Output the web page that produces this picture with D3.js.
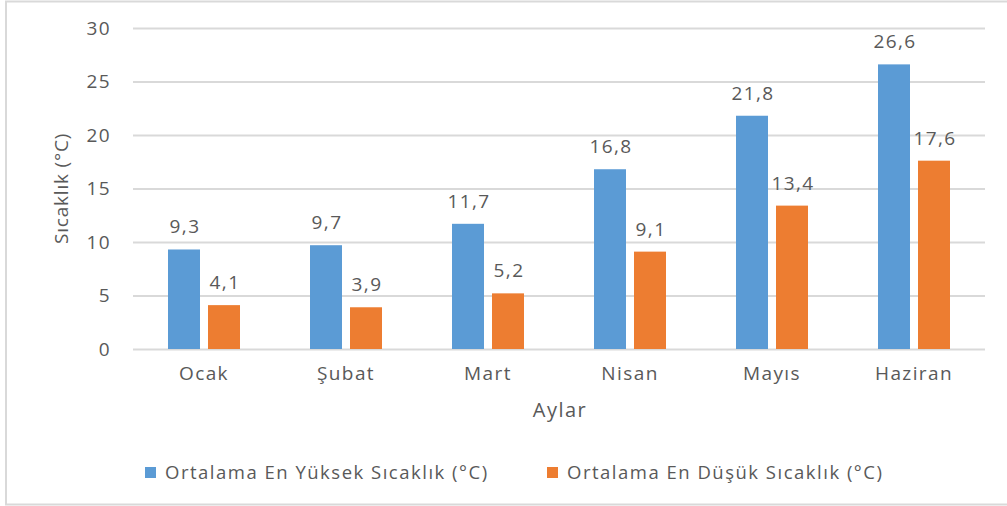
<!DOCTYPE html>
<html>
<head>
<meta charset="utf-8">
<script src="https://cdn.jsdelivr.net/npm/d3@7"></script>
<style>
  html, body { margin: 0; padding: 0; background: #fff; }
  svg { display: block; font-family: "Open Sans", "Noto Sans", sans-serif; }
</style>
</head>
<body>
<svg id="chart" width="1007" height="506"></svg>
<script>
// Monthly average temperatures
const months = ["Ocak", "Şubat", "Mart", "Nisan", "Mayıs", "Haziran"];
const highTemps = [9.3, 9.7, 11.7, 16.8, 21.8, 26.6];
const lowTemps = [4.1, 3.9, 5.2, 9.1, 13.4, 17.6];
const seriesNames = ["Ortalama En Yüksek Sıcaklık (°C)", "Ortalama En Düşük Sıcaklık (°C)"];
const yTicks = [0, 5, 10, 15, 20, 25, 30];

const colors = ["#5B9BD5", "#ED7D31"];
const textColor = "#595959";
const gridColor = "#D9D9D9";
const fontFamily = '"Open Sans", "Noto Sans", sans-serif';

const svg = d3.select("#chart");
const margin = { left: 133, right: 1007 - 985, top: 28, bottom: 506 - 349 };
const width = 1007, height = 506;

// Outer chart frame
svg.append("rect")
  .attr("x", 6).attr("y", 1.5)
  .attr("width", 1010).attr("height", 503)
  .attr("fill", "none")
  .attr("stroke", "#D9D9D9")
  .attr("stroke-width", 2);

const x0 = d3.scaleBand()
  .domain(months)
  .range([margin.left, width - margin.right])
  .paddingInner(0.493)
  .paddingOuter(0.2465);

const x1 = d3.scaleBand()
  .domain([0, 1])
  .range([0, x0.bandwidth()])
  .paddingInner(0.2);

const y = d3.scaleLinear()
  .domain([0, 30])
  .range([height - margin.bottom, margin.top]);

// Gridlines and value labels on the left
const yAxis = d3.axisLeft(y)
  .tickValues(yTicks)
  .tickSize(-(width - margin.left - margin.right))
  .tickPadding(22)
  .tickFormat(d3.format("d"));

const gy = svg.append("g")
  .attr("transform", `translate(${margin.left},0)`)
  .call(yAxis)
  .attr("font-family", fontFamily);
gy.select(".domain").remove();
gy.selectAll(".tick line").attr("stroke", gridColor).attr("stroke-width", 2);
gy.selectAll(".tick text")
  .attr("fill", textColor)
  .attr("font-size", 19)
  .attr("letter-spacing", 1.4);

// Category axis
const xAxis = d3.axisBottom(x0).tickSize(0).tickPadding(18);
const gx = svg.append("g")
  .attr("transform", `translate(0,${height - margin.bottom})`)
  .call(xAxis)
  .attr("font-family", fontFamily);
gx.select(".domain").remove();
gx.selectAll(".tick text")
  .attr("fill", textColor)
  .attr("font-size", 19)
  .attr("letter-spacing", 1.4);

// Bars
const rows = months.map((m, i) => ({ month: m, values: [highTemps[i], lowTemps[i]] }));
const fmt = v => d3.format(".1f")(v).replace(".", ",");

const groups = svg.append("g").selectAll("g")
  .data(rows)
  .join("g")
  .attr("transform", d => `translate(${x0(d.month)},0)`);

groups.selectAll("rect")
  .data(d => d.values.map((v, k) => ({ v, k })))
  .join("rect")
  .attr("x", d => x1(d.k))
  .attr("y", d => y(d.v))
  .attr("width", x1.bandwidth())
  .attr("height", d => y(0) - y(d.v))
  .attr("fill", d => colors[d.k]);

groups.selectAll("text")
  .data(d => d.values.map((v, k) => ({ v, k })))
  .join("text")
  .attr("x", d => x1(d.k) + x1.bandwidth() / 2 + 1)
  .attr("y", d => y(d.v) - 16)
  .attr("text-anchor", "middle")
  .attr("fill", textColor)
  .attr("font-size", 19)
  .attr("letter-spacing", 1.4)
  .text(d => fmt(d.v));

// Axis titles
svg.append("text")
  .attr("x", (margin.left + width - margin.right) / 2 + 1)
  .attr("y", 417)
  .attr("text-anchor", "middle")
  .attr("fill", textColor)
  .attr("font-size", 20)
  .attr("letter-spacing", 1.5)
  .text("Aylar");

svg.append("text")
  .attr("transform", `translate(68,${(y(0) + y(30)) / 2}) rotate(-90)`)
  .attr("text-anchor", "middle")
  .attr("fill", textColor)
  .attr("font-size", 19)
  .attr("letter-spacing", 0.8)
  .text("Sıcaklık (°C)");

// Legend
const legendX = [145, 547];
const legend = svg.append("g").selectAll("g")
  .data(seriesNames)
  .join("g")
  .attr("transform", (d, i) => `translate(${legendX[i]},467)`);
legend.append("rect")
  .attr("width", 11).attr("height", 11)
  .attr("fill", (d, i) => colors[i]);
legend.append("text")
  .attr("x", 20).attr("y", 12)
  .attr("fill", textColor)
  .attr("font-size", 18.5)
  .attr("letter-spacing", 1.5)
  .text(d => d);
</script>
</body>
</html>
